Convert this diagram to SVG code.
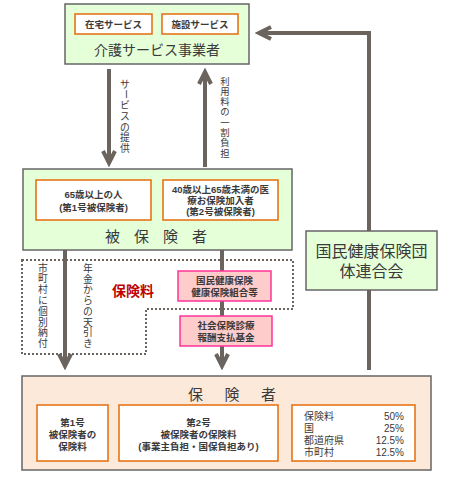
<svg xmlns="http://www.w3.org/2000/svg" width="457" height="480" viewBox="0 0 457 480">
<style>
text{font-family:"Noto Sans CJK JP","Noto Sans",sans-serif;fill:#3a3a3a}
.s,.r,.v,.L{font-family:"Liberation Sans","Noto Sans CJK JP",sans-serif}
.g{fill:#e5ffd9;stroke:#666;stroke-width:1.5}
.p{fill:#fde9d9;stroke:#666;stroke-width:1.5}
.o{fill:#fff;stroke:#e46c0a;stroke-width:1.5}
.k{fill:#ffcccc;stroke:#ff3399;stroke-width:1.5}
.a{fill:none;stroke:#6b635d;stroke-width:4}
.s{font-size:9.5px;font-weight:bold;text-anchor:middle}
.v{font-size:9.8px;text-anchor:middle;dominant-baseline:central}
.t{text-anchor:middle}
.h{font-size:15px;text-anchor:middle}
.r{font-size:10px}
</style>
<defs>
<marker id="ah" markerUnits="userSpaceOnUse" markerWidth="20" markerHeight="20" viewBox="-16 -10 20 20" refX="0" refY="0" orient="auto">
<path d="M-12,-6 L0,0 L-12,6" fill="none" stroke="#6b635d" stroke-width="4"/>
</marker>
</defs>
<g id="connectors">
<path class="a" d="M369,370 L369,33 L259,33" marker-end="url(#ah)"/>
<path class="a" d="M109,69 L109,163" marker-end="url(#ah)"/>
<path class="a" d="M205,167 L205,72" marker-end="url(#ah)"/>
<path class="a" d="M65,250 L65,366" marker-end="url(#ah)"/>
<path class="a" d="M222,250 L222,366" marker-end="url(#ah)"/>
<polygon points="22,260 293,260 293,309 146,309 146,354 22,354" fill="none" stroke="#6b635d" stroke-width="2" stroke-dasharray="2,2"/>
<text class="v"><tspan x="125" y="83.5">サ</tspan><tspan x="125" y="105">ビ</tspan><tspan x="125" y="115.7">ス</tspan><tspan x="125" y="126.5">の</tspan><tspan x="125" y="137.2">提</tspan><tspan x="125" y="148">供</tspan></text>
<text class="v" x="125" y="94.2" transform="rotate(90 125 94.2)">ー</text>
<text class="v" style="font-size:9.4px"><tspan x="225" y="80.5">利</tspan><tspan x="225" y="90.8">用</tspan><tspan x="225" y="101.1">料</tspan><tspan x="225" y="111.4">の</tspan><tspan x="225" y="121.7">一</tspan><tspan x="225" y="132">割</tspan><tspan x="225" y="142.3">負</tspan><tspan x="225" y="152.6">担</tspan></text>
<text class="v"><tspan x="43" y="267.5">市</tspan><tspan x="43" y="278.3">町</tspan><tspan x="43" y="289.1">村</tspan><tspan x="43" y="299.9">に</tspan><tspan x="43" y="310.7">個</tspan><tspan x="43" y="321.5">別</tspan><tspan x="43" y="332.3">納</tspan><tspan x="43" y="343.1">付</tspan></text>
<text class="v"><tspan x="88" y="268">年</tspan><tspan x="88" y="278.7">金</tspan><tspan x="88" y="289.4">か</tspan><tspan x="88" y="300.1">ら</tspan><tspan x="88" y="310.8">の</tspan><tspan x="88" y="321.5">天</tspan><tspan x="88" y="332.2">引</tspan><tspan x="88" y="342.9">き</tspan></text>
<text x="133" y="296" class="t" style="font-size:14px;font-weight:bold;fill:#c00000">保険料</text>
</g>
<g id="provider">
<rect class="g" x="65" y="4" width="184" height="60"/>
<rect class="o" x="75" y="14" width="77" height="20"/>
<rect class="o" x="162" y="14" width="76" height="20"/>
<text class="s" x="113.5" y="28">在宅サービス</text>
<text class="s" x="200" y="28">施設サービス</text>
<text class="t" x="157" y="55" style="font-size:14px">介護サービス事業者</text>
</g>
<g id="insured">
<rect class="g" x="23" y="169" width="269" height="81"/>
<rect class="o" x="36" y="180" width="115" height="40"/>
<rect class="o" x="163" y="180" width="115" height="40"/>
<text class="s" x="93.5" y="198">65歳以上の人</text>
<text class="s" x="93.5" y="211">(第1号被保険者)</text>
<text class="s" x="220.5" y="193">40歳以上65歳未満の医</text>
<text class="s" x="220.5" y="204">療お保険加入者</text>
<text class="s" x="220.5" y="215">(第2号被保険者)</text>
<text class="h" y="242"><tspan x="112.5">被</tspan><tspan x="141.5">保</tspan><tspan x="170.5">険</tspan><tspan x="199.5">者</tspan></text>
</g>
<g id="kokuho">
<rect class="k" x="178" y="271" width="93" height="30"/>
<text class="s" x="224.5" y="284">国民健康保険</text>
<text class="s" x="224.5" y="296">健康保険組合等</text>
</g>
<g id="shiharai">
<rect class="k" x="180" y="316" width="92" height="30"/>
<text class="s" x="226" y="329">社会保険診療</text>
<text class="s" x="226" y="341">報酬支払基金</text>
</g>
<g id="rengokai">
<rect class="g" x="306" y="231" width="131" height="59"/>
<text class="t L" x="371.5" y="257" style="font-size:16px">国民健康保険団</text>
<text class="t L" x="371.5" y="277" style="font-size:16px">体連合会</text>
</g>
<g id="insurer">
<rect class="p" x="22" y="376" width="409" height="94"/>
<text class="h" y="400"><tspan x="195.5">保</tspan><tspan x="232">険</tspan><tspan x="268.5">者</tspan></text>
<rect class="o" x="37" y="405" width="71" height="56"/>
<rect class="o" x="119" y="405" width="159" height="56"/>
<rect class="o" x="292" y="405" width="123" height="56"/>
<text class="s" x="72.5" y="426">第1号</text>
<text class="s" x="72.5" y="438">被保険者の</text>
<text class="s" x="72.5" y="450">保険料</text>
<text class="s" x="198.5" y="426">第2号</text>
<text class="s" x="198.5" y="438">被保険者の保険料</text>
<text class="s" x="198.5" y="450">(事業主負担・国保負担あり)</text>
<text class="r" x="304" y="420">保険料</text>
<text class="r" x="304" y="431.5">国</text>
<text class="r" x="304" y="443.5">都道府県</text>
<text class="r" x="304" y="455.5">市町村</text>
<text class="r" x="404" y="420" text-anchor="end">50%</text>
<text class="r" x="404" y="431.5" text-anchor="end">25%</text>
<text class="r" x="404" y="443.5" text-anchor="end">12.5%</text>
<text class="r" x="404" y="455.5" text-anchor="end">12.5%</text>
</g>
</svg>
